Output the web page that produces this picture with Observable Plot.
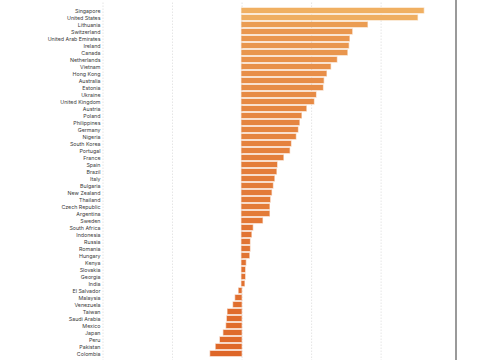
<!DOCTYPE html>
<html><head><meta charset="utf-8">
<script src="https://cdn.jsdelivr.net/npm/d3@7"></script>
<script src="https://cdn.jsdelivr.net/npm/@observablehq/plot@0.6"></script>
<style>
body{margin:0;background:#fff;}
#chart svg{display:block;border-right:2px solid #9a9a9a;}
</style></head><body><div id="chart"></div>
<script>
const countries = ["Singapore","United States","Lithuania","Switzerland","United Arab Emirates","Ireland","Canada","Netherlands","Vietnam","Hong Kong","Australia","Estonia","Ukraine","United Kingdom","Austria","Poland","Philippines","Germany","Nigeria","South Korea","Portugal","France","Spain","Brazil","Italy","Bulgaria","New Zealand","Thailand","Czech Republic","Argentina","Sweden","South Africa","Indonesia","Russia","Romania","Hungary","Kenya","Slovakia","Georgia","India","El Salvador","Malaysia","Venezuela","Taiwan","Saudi Arabia","Mexico","Japan","Peru","Pakistan","Colombia"];
const values = [26.2,25.3,18.1,15.9,15.5,15.4,15.2,13.7,12.8,12.2,11.8,11.7,10.7,10.4,9.3,8.6,8.3,8.1,7.8,7.1,6.9,6.0,5.1,5.0,4.7,4.5,4.3,4.1,4.0,4.0,3.0,1.6,1.4,1.2,1.2,1.1,0.6,0.5,0.5,0.4,-0.4,-0.9,-1.2,-2.0,-2.1,-2.2,-2.6,-3.1,-3.7,-4.5];
const xTicks = [-20,-10,0,10,20];
const colorRange = ["#de6527","#f0b264"];
const data = countries.map((c,i)=>({country:c, value:values[i]}));
const chart = Plot.plot({
  width: 455, height: 361,
  marginLeft: 102.5, marginRight: 0, marginTop: 2.5, marginBottom: 0,
  style: {fontFamily: "Inter, 'Liberation Sans', sans-serif", fontSize: "5.3px", color: "#3a3a3a", background: "#fff"},
  x: {domain: [-20, 30.7], axis: null},
  y: {domain: countries, padding: 0.35, label: null, tickSize: 0, tickPadding: 2.5},
  color: {type: "linear", domain: [-5, 27], range: colorRange},
  marks: [
    Plot.gridX(xTicks, {stroke: "#cfcfcf", strokeOpacity: 0.55, strokeDasharray: "1.5,1.5"}),
    Plot.barX(data, {x: "value", y: "country", fill: "value", stroke: "value", strokeOpacity: 0.4, strokeWidth: 1.3})
  ]
});
document.getElementById("chart").append(chart);
</script></body></html>
